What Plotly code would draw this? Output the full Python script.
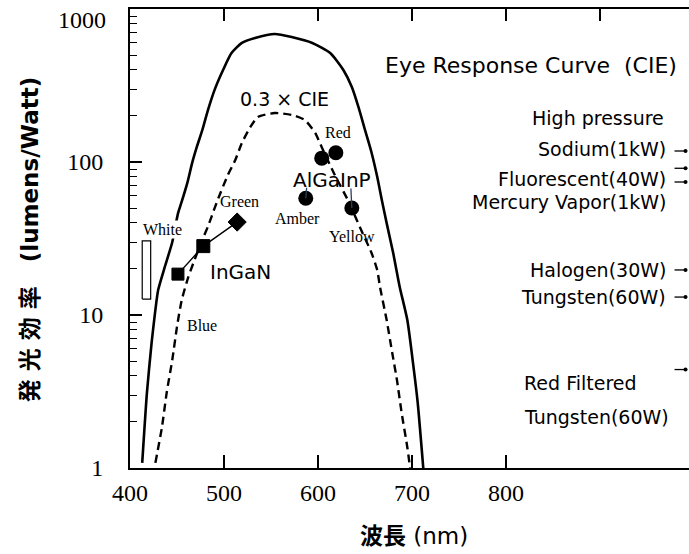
import math
import plotly.graph_objects as go

# Eye response curve (CIE photopic), lumens per watt
cie_wavelength = [413, 418, 423, 427, 430, 437, 445, 451, 455, 461, 466, 471, 477,
                  483, 490, 499, 508, 519, 533, 554, 572, 594, 613, 627, 636, 643,
                  650, 657, 663, 668, 673, 680, 687, 695, 701, 706, 712]
cie_efficacy = [1.08, 3.1, 6.6, 10.8, 14.6, 20.6, 30, 46, 55, 73, 98, 125, 162,
                219, 296, 399, 515, 600, 646, 687, 656, 600, 515, 399, 309, 229,
                162, 115, 80, 56, 40, 25.4, 15.2, 9.3, 4.9, 2.7, 1.0]

# 0.3 x CIE curve
cie03_wavelength = [427, 434, 439, 445, 450, 455, 462, 471, 477, 483, 489, 494, 504,
                    512, 519, 528, 536, 554, 572, 586, 597, 604, 618, 632, 645, 657,
                    663, 666, 673, 679, 684, 689, 695, 698]
cie03_efficacy = [1.08, 1.85, 3.1, 5.1, 8.4, 12.5, 17.7, 25, 31, 38, 48, 58, 82,
                  103, 133, 169, 197, 209, 203, 188, 155, 125, 82, 56, 37, 25.4,
                  19.7, 15.2, 9.3, 5.65, 3.76, 2.29, 1.37, 1.0]

# InGaN LEDs (blue, blue, green)
ingan_wavelength = [451, 478, 514]
ingan_efficacy = [18.5, 28.2, 40.5]
ingan_symbols = ["square", "square", "diamond"]

# AlGaInP LEDs
algainp_names = ["Amber", "Red", "Red", "Yellow"]
algainp_wavelength = [587, 604, 619, 636]
algainp_efficacy = [58, 106, 115, 50]

# White LED range
white_wavelength = [413, 422]
white_efficacy = [12.7, 30.5]

# Conventional lamps
lamp_names = ["Sodium(1kW)", "Fluorescent(40W)", "Mercury Vapor(1kW)",
              "Halogen(30W)", "Tungsten(60W)", "Tungsten(60W)"]
lamp_efficacy = [118, 91, 74, 19.7, 13.1, 4.4]

# y-axis decades
y_ticks = [1, 10, 100, 1000]

X_MIN, X_MAX = 400, 994.7
LAMP_X = 991

fig = go.Figure()

fig.add_trace(go.Scatter(
    x=cie_wavelength, y=cie_efficacy, mode="lines",
    line=dict(color="black", width=2.6, shape="spline", smoothing=0.6),
    hoverinfo="skip", showlegend=False))

fig.add_trace(go.Scatter(
    x=cie03_wavelength, y=cie03_efficacy, mode="lines",
    line=dict(color="black", width=2.4, dash="8px,5px", shape="spline", smoothing=0.6),
    hoverinfo="skip", showlegend=False))

# white LED box
wx0, wx1 = white_wavelength
wy0, wy1 = white_efficacy
fig.add_trace(go.Scatter(
    x=[wx0, wx1, wx1, wx0, wx0], y=[wy0, wy0, wy1, wy1, wy0], mode="lines",
    fill="toself", fillcolor="white", line=dict(color="black", width=1.2),
    hoverinfo="skip", showlegend=False))

fig.add_trace(go.Scatter(
    x=ingan_wavelength, y=ingan_efficacy, mode="lines+markers",
    line=dict(color="black", width=1.4),
    marker=dict(symbol=ingan_symbols, size=[12, 13, 14], color="black", opacity=1,
                line=dict(color="black", width=1)),
    hoverinfo="skip", showlegend=False))

fig.add_trace(go.Scatter(
    x=algainp_wavelength, y=algainp_efficacy, mode="markers",
    marker=dict(symbol="circle", size=15, color="black", opacity=1,
                line=dict(color="black", width=0)),
    hoverinfo="skip", showlegend=False))

# lamp pointers at the right edge
fig.add_trace(go.Scatter(
    x=[LAMP_X - 5] * len(lamp_efficacy), y=lamp_efficacy, mode="markers",
    marker=dict(symbol="line-ew", size=9, line=dict(color="black", width=1.3)),
    hoverinfo="skip", showlegend=False))
fig.add_trace(go.Scatter(
    x=[LAMP_X] * len(lamp_efficacy), y=lamp_efficacy, mode="markers",
    marker=dict(symbol="circle", size=4, color="black", opacity=1),
    hoverinfo="skip", showlegend=False))

# invisible trace carrying the top axis
fig.add_trace(go.Scatter(x=[X_MIN], y=[1], xaxis="x2", mode="markers",
                         marker=dict(opacity=0), hoverinfo="skip", showlegend=False))

SANS = "DejaVu Sans, Noto Sans CJK JP, sans-serif"
SERIF = "Liberation Serif, Times New Roman, serif"

PLOT_LEFT, PLOT_W = 130, 559
PLOT_BOTTOM, PLOT_H = 468, 459


def px_to_val(py):
    """Vertical pixel position in the figure -> lumens/Watt."""
    return 10 ** ((PLOT_BOTTOM - py) / 153)


def px_to_lam(pxx):
    """Horizontal pixel position in the figure -> wavelength."""
    return 400 + (pxx - PLOT_LEFT) / 0.94


def label(text, lam, val, size, family=SANS, xanchor="center", bg=None):
    d = dict(text=text, x=lam, y=math.log10(val), xref="x", yref="y",
             showarrow=False, xanchor=xanchor, yanchor="middle",
             font=dict(family=family, size=size, color="black"))
    if bg:
        d["bgcolor"] = bg
        d["borderpad"] = 0
    fig.add_annotation(**d)


label("Eye Response Curve\u00a0\u00a0(CIE)", px_to_lam(679), px_to_val(65), 22, xanchor="right")
label("0.3 × CIE", 564, 258, 19)
label("InGaN", 518, 19.1, 20)
label("AlGaInP", 615, 76, 20)
label("Red", 621, 157, 16, SERIF)
label("Amber", 578, 43, 16, SERIF)
label("Yellow", 636, 32.8, 16, SERIF)
label("Green", 517, 55.6, 16, SERIF)
label("White", 435, 36, 16, SERIF, bg="white")
label("Blue", 477, 8.6, 16, SERIF)

label("High pressure", px_to_lam(666), px_to_val(118), 19, xanchor="right")
right_label_px = [149, 179, 202, 270, 297]
for name, py in zip(lamp_names[:5], right_label_px):
    label(name, px_to_lam(668), px_to_val(py), 19, xanchor="right")
label("Red Filtered", px_to_lam(522), px_to_val(383), 19, xanchor="left")
label(lamp_names[5], px_to_lam(522), px_to_val(417), 19, xanchor="left")

# top decade label sits just under the frame
fig.add_annotation(text=str(y_ticks[-1]), xref="paper", yref="paper",
                   x=(108 - PLOT_LEFT) / PLOT_W, y=(PLOT_BOTTOM - 20) / PLOT_H,
                   showarrow=False, xanchor="right", yanchor="middle",
                   font=dict(family=SERIF, size=24, color="black"))

# connector lines from LED labels
fig.add_annotation(x=587, y=math.log10(58), xref="x", yref="y", text="",
                   showarrow=True, arrowhead=0, arrowwidth=1.3, ax=1, ay=-12)
fig.add_annotation(x=636, y=math.log10(50), xref="x", yref="y", text="",
                   showarrow=True, arrowhead=0, arrowwidth=1.3, ax=-1, ay=-21)

# axis titles
fig.add_annotation(text="<b>発\u00a0光\u00a0効\u00a0率\u00a0\u00a0\u00a0(lumens/Watt)</b>",
                   xref="paper", yref="paper", x=-0.18, y=0.497, textangle=-90,
                   showarrow=False, xanchor="center", yanchor="middle",
                   font=dict(family=SANS, size=23, color="black"))
fig.add_annotation(text="<b>波長</b> (nm)",
                   xref="paper", yref="paper", x=0.508, y=-0.148,
                   showarrow=False, xanchor="center", yanchor="middle",
                   font=dict(family=SANS, size=23, color="black"))

fig.update_layout(
    width=689, height=554,
    margin=dict(l=130, r=0, t=9, b=86),
    paper_bgcolor="white", plot_bgcolor="white",
    xaxis=dict(range=[X_MIN, X_MAX], tickvals=[400, 500, 600, 700, 800],
               ticks="inside", ticklen=13, tickwidth=1.5, tickcolor="black",
               showline=True, linecolor="black", linewidth=2, showgrid=False,
               zeroline=False, ticklabelstandoff=2,
               tickfont=dict(family=SERIF, size=24, color="black")),
    xaxis2=dict(range=[X_MIN, X_MAX], overlaying="x", side="top", anchor="y",
                tickvals=[500, 600, 700, 800, 900], ticks="inside", ticklen=12,
                tickwidth=1.5, tickcolor="black", showticklabels=False,
                showline=True, linecolor="black", linewidth=2, showgrid=False,
                zeroline=False),
    yaxis=dict(type="log", range=[0, 3], tickvals=y_ticks,
               ticktext=[str(v) if v < 1000 else "" for v in y_ticks],
               ticks="inside", ticklen=12, tickwidth=1.5, tickcolor="black",
               minor=dict(ticks="inside", ticklen=7, tickwidth=1.3, tickcolor="black",
                          dtick="D1", showgrid=False),
               showline=True, linecolor="black", linewidth=2, showgrid=False,
               zeroline=False, ticklabelstandoff=20,
               tickfont=dict(family=SERIF, size=24, color="black")),
)

fig.write_html("out.html")
